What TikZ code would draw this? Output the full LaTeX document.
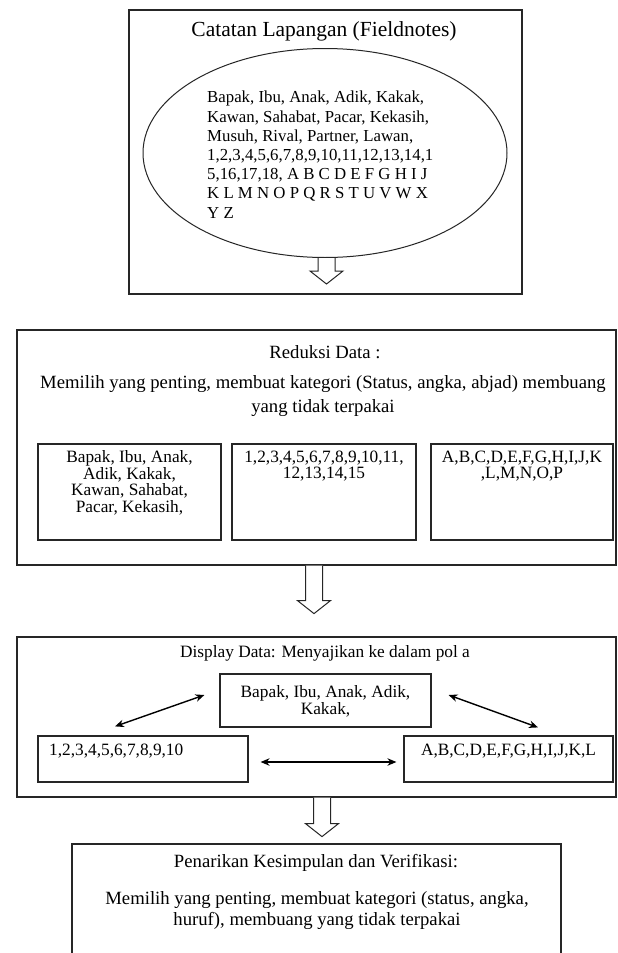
\documentclass[tikz,border=0pt]{standalone}
\usepackage{fontspec}
\setmainfont{Liberation Serif}
\usetikzlibrary{calc, positioning, arrows.meta, shapes.geometric}

\begin{document}
\begin{tikzpicture}[
	x=1pt, y=-1pt, >=Stealth,
	frame/.style={draw=black!85, line width=1.2pt, inner sep=0pt},
	body/.style={font=\fontsize{17.3}{16.5}\selectfont, inner sep=0pt, align=center},
	para/.style={font=\fontsize{18.7}{24}\selectfont, inner sep=0pt, align=center},
	hol/.style={draw=black!85, line width=1pt, fill=white},
	dbl/.style={{Stealth[length=9pt, width=7.5pt]}-{Stealth[length=9pt, width=7.5pt]}, line width=1.4pt},
	]
	
	\fill[white] (0,0) rectangle (618,953);
	\useasboundingbox (0,0) rectangle (618,953);
	
	% ── Catatan Lapangan ─────────────────────────────────────────────
	\node[frame, minimum width=393pt, minimum height=284pt] (fn) at (325.5,152) {};
	\node[font=\fontsize{21.5}{24}\selectfont, anchor=base, inner sep=0pt] (fntitle) at (324,36.5)
	{Catatan Lapangan (Fieldnotes)};
	
	\node[frame, ellipse, line width=1pt, minimum width=364pt, minimum height=209pt] (ell) at (325,153) {};
	\node[body, font=\fontsize{16.8}{19.2}\selectfont, align=left, anchor=north west] (elltext) at (207,91)
	{Bapak, Ibu, Anak, Adik, Kakak,\\
		Kawan, Sahabat, Pacar, Kekasih,\\
		Musuh, Rival, Partner, Lawan,\\
		1,2,3,4,5,6,7,8,9,10,11,12,13,14,1\\
		5,16,17,18, A B C D E F G H I J\\
		K L M N O P Q R S T U V W X\\
		Y Z};
	
	\draw[hol] ([xshift=1.5pt]ell.south) ++(-8.5,0) -- ++(0,13) -- ++(-8,0) -- ++(16.5,13)
	-- ++(16.5,-13) -- ++(-8,0) -- ++(0,-13);
	
	% ── Reduksi Data ─────────────────────────────────────────────────
	\node[frame, minimum width=599pt, minimum height=235pt] (red) at (316.5,447.5) {};
	\node[para, anchor=base] (redtitle) at (325,358) {Reduksi Data :};
	\node[para, anchor=north] (redtext) at (323,375.5)
	{Memilih yang penting, membuat kategori (Status, angka, abjad) membuang\\
		yang tidak terpakai};
	
	\node[frame, minimum width=183pt, minimum height=96pt] (status) at (129.5,492) {};
	\node[frame, minimum width=184pt, minimum height=96pt] (angka) at (324,492) {};
	\node[frame, minimum width=182pt, minimum height=96pt] (abjad) at (522,492) {};
	
	\node[body, anchor=north] (statustext) at (status.north |- 0,450.5)
	{Bapak, Ibu, Anak,\\ Adik, Kakak,\\ Kawan, Sahabat,\\ Pacar, Kekasih,};
	\node[body, anchor=north] (angkatext) at (angka.north |- 0,450.5)
	{1,2,3,4,5,6,7,8,9,10,11,\\ 12,13,14,15};
	\node[body, anchor=north] (abjadtext) at (abjad.north |- 0,450.5)
	{A,B,C,D,E,F,G,H,I,J,K\\ ,L,M,N,O,P};
	
	\draw[hol] ([xshift=-2.5pt]red.south) ++(-8.5,0) -- ++(0,35) -- ++(-8,0) -- ++(16.5,13)
	-- ++(16.5,-13) -- ++(-8,0) -- ++(0,-35);
	
	% ── Display Data ─────────────────────────────────────────────────
	\node[frame, minimum width=599pt, minimum height=160pt] (disp) at (316.5,717) {};
	\node[body, anchor=base] (disptitle) at (325,657.5) {Display Data: Menyajikan ke dalam pol a};
	
	\node[frame, minimum width=211pt, minimum height=53pt] (mid) at (325.5,700.5) {};
	\node[body, anchor=north] (midtext) at (mid.north |- 0,685.5) {Bapak, Ibu, Anak, Adik,\\ Kakak,};
	
	\node[frame, minimum width=210pt, minimum height=46pt] (num) at (143,759) {};
	\node[body, anchor=base west] (numtext) at (49,755.5) {1,2,3,4,5,6,7,8,9,10};
	
	\node[frame, minimum width=209pt, minimum height=46pt] (abc) at (508.5,759) {};
	\node[body, anchor=base] (abctext) at (abc.north |- 0,755.5) {A,B,C,D,E,F,G,H,I,J,K,L};
	
	\draw[dbl] ([xshift=-28pt, yshift=9pt]num.north) -- ([xshift=-15pt, yshift=5.5pt]mid.west);
	\draw[dbl] ([xshift=17pt, yshift=5.5pt]mid.east) -- ([xshift=29.5pt, yshift=8pt]abc.north);
	\draw[dbl] ([xshift=12pt, yshift=-3pt]num.east) -- ([xshift=-7pt, yshift=-3pt]abc.west);
	
	\draw[hol] ([xshift=5.5pt]disp.south) ++(-8.5,0) -- ++(0,26) -- ++(-8,0) -- ++(16.5,13)
	-- ++(16.5,-13) -- ++(-8,0) -- ++(0,-26);
	
	% ── Penarikan Kesimpulan ─────────────────────────────────────────
	\node[frame, minimum width=489pt, minimum height=131pt] (ver) at (316.5,909.5) {};
	\node[para, anchor=base] (vertitle) at (316,867) {Penarikan Kesimpulan dan Verifikasi:};
	\node[para, font=\fontsize{18.7}{21}\selectfont, anchor=north] (vertext) at (317,891.5)
	{Memilih yang penting, membuat kategori (status, angka,\\
		huruf), membuang yang tidak terpakai};
	
\end{tikzpicture}
\end{document}
